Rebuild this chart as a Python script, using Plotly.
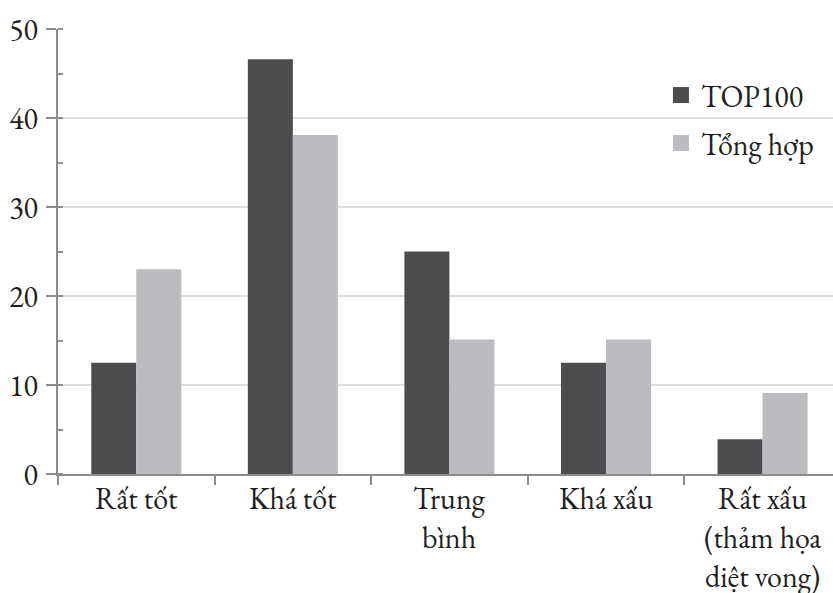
import plotly.graph_objects as go

# Categories (each label split into its display lines)
categories = ["Rất tốt", "Khá tốt", "Trung bình", "Khá xấu", "Rất xấu (thảm họa diệt vong)"]
category_lines = [["Rất tốt"], ["Khá tốt"], ["Trung", "bình"], ["Khá xấu"],
                  ["Rất xấu", "(thảm họa", "diệt vong)"]]

series_names = ["TOP100", "Tổng hợp"]
top100 = [12.5, 46.6, 25.0, 12.5, 3.9]
tong_hop = [23.0, 38.1, 15.1, 15.1, 9.1]
y_ticks = [0, 10, 20, 30, 40, 50]

DARK = "#4d4d4f"
LIGHT = "#bbbcc0"
FONT = "EB Garamond, Garamond, Liberation Serif, serif"
TEXT = "#231f20"
FS = 30

fig = go.Figure()
for name, vals, col in [(series_names[0], top100, DARK), (series_names[1], tong_hop, LIGHT)]:
    fig.add_trace(go.Bar(x=categories, y=vals, marker=dict(color=col, line=dict(width=0)),
                         name=name, showlegend=False))
    # square legend key
    fig.add_trace(go.Scatter(x=[None], y=[None], mode="markers", name=name,
                             legendgroup=name,
                             marker=dict(symbol="square", size=16, color=col)))

# multi-line category labels under the axis
line_gap = 39
for cat, lines in zip(categories, category_lines):
    for k, ln in enumerate(lines):
        fig.add_annotation(x=cat, y=0, xref="x", yref="y", text=ln, showarrow=False,
                           yanchor="top", yshift=-3 - k * line_gap,
                           font=dict(family=FONT, size=FS, color=TEXT))

fig.update_layout(
    width=833, height=593,
    margin=dict(l=58, r=0, t=29, b=119),
    plot_bgcolor="white", paper_bgcolor="white",
    bargap=0.425, bargroupgap=0, barmode="group",
    font=dict(family=FONT, size=FS, color=TEXT),
    legend=dict(x=0.778, y=0.91, xanchor="left", yanchor="top",
                bgcolor="rgba(0,0,0,0)", font=dict(size=FS, family=FONT, color=TEXT),
                tracegroupgap=6, itemwidth=30),
    xaxis=dict(range=[-0.5, 4.45], showticklabels=False, tickson="boundaries",
               ticks="outside", ticklen=9, tickwidth=2, tickcolor="#8c8c8c",
               showline=True, linecolor="#8c8c8c", linewidth=2, showgrid=False,
               zeroline=False, fixedrange=True),
    yaxis=dict(range=[0, 50], tickvals=y_ticks, ticks="outside", ticklen=10,
               tickwidth=2, tickcolor="#8c8c8c", showline=True, linecolor="#8c8c8c",
               linewidth=2, showgrid=True, gridcolor="#dedede", gridwidth=2,
               zeroline=False, ticklabelstandoff=2,
               minor=dict(dtick=5, ticks="inside", ticklen=5, tickwidth=2,
                          tickcolor="#8c8c8c", showgrid=False),
               tickfont=dict(family=FONT, size=FS, color=TEXT)),
)

fig.write_html("out.html")
